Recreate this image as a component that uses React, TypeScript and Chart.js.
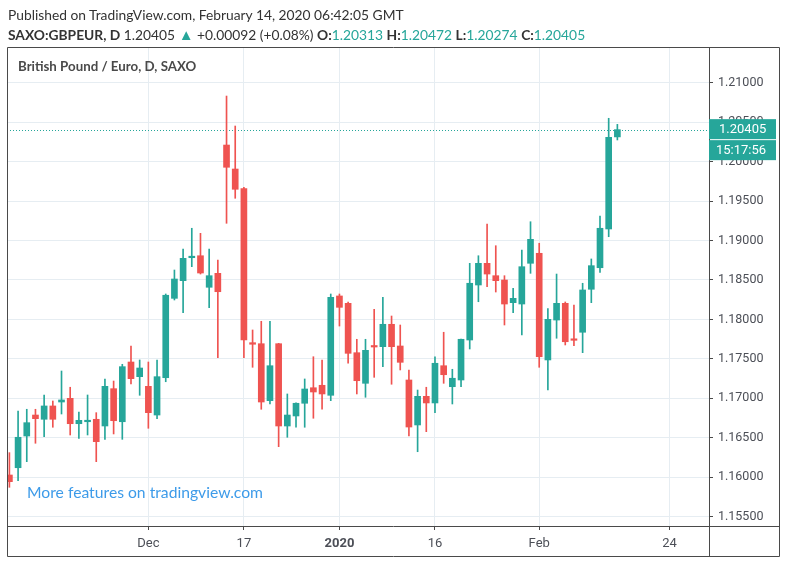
import React, { useEffect, useRef } from 'react';
import { Chart, registerables } from 'chart.js';

Chart.register(...registerables);

// Daily GBP/EUR candles, Nov 8 2019 (index 0) .. Feb 14 2020 (index 70), weekdays only
const opens = [
  1.16028, 1.1612, 1.16522, 1.16788, 1.16734, 1.16903, 1.16953, 1.17, 1.16678, 1.16703,
  1.16734, 1.16649, 1.17122, 1.16703, 1.1746, 1.17274, 1.17152, 1.16788, 1.17261, 1.18267,
  1.18491, 1.18782, 1.18807, 1.18407, 1.18584, 1.2021, 1.19906, 1.19657, 1.17705, 1.17692,
  1.1697, 1.17692, 1.16649, 1.16776, 1.16937, 1.17134, 1.17165, 1.17038, 1.18297, 1.18204,
  1.17578, 1.1719, 1.17663, 1.17654, 1.17938, 1.17663, 1.17232, 1.16662, 1.17025, 1.16941,
  1.17413, 1.17147, 1.17232, 1.17739, 1.18436, 1.18711, 1.18554, 1.18499, 1.18212, 1.18195,
  1.18711, 1.18838, 1.17486, 1.17992, 1.18204, 1.17752, 1.17837, 1.18382, 1.18655, 1.19146,
  1.20313,
];
const highs = [
  1.16311, 1.16839, 1.16861, 1.16861, 1.17042, 1.16966, 1.17346, 1.1714, 1.16826, 1.17042,
  1.16818, 1.17245, 1.17219, 1.17431, 1.17663, 1.17486, 1.1746, 1.17486, 1.18322, 1.18626,
  1.18892, 1.19155, 1.19091, 1.18892, 1.18753, 1.20831, 1.20451, 1.19674, 1.17866, 1.17976,
  1.17976, 1.17697, 1.17055, 1.16944, 1.17245, 1.17527, 1.17486, 1.18322, 1.18322, 1.18221,
  1.17748, 1.17748, 1.18128, 1.1828, 1.18043, 1.17929, 1.17359, 1.17105, 1.1714, 1.17527,
  1.17837, 1.17368, 1.17752, 1.18711, 1.18807, 1.19209, 1.18934, 1.18554, 1.18394, 1.1888,
  1.19238, 1.18965, 1.18136, 1.18575, 1.18221, 1.18183, 1.18458, 1.18766, 1.19311, 1.20549,
  1.20472,
];
const lows = [
  1.15872, 1.15956, 1.16197, 1.1643, 1.16513, 1.16633, 1.16801, 1.16535, 1.16493, 1.16535,
  1.16197, 1.1648, 1.16548, 1.1648, 1.17181, 1.17038, 1.1662, 1.16742, 1.1721, 1.18246,
  1.18085, 1.18668, 1.18575, 1.18148, 1.17515, 1.19218, 1.19535, 1.17515, 1.17393, 1.16861,
  1.16928, 1.16387, 1.16506, 1.16633, 1.16633, 1.16747, 1.16861, 1.1697, 1.17916, 1.17444,
  1.17055, 1.17013, 1.17266, 1.17401, 1.17178, 1.17359, 1.16522, 1.16323, 1.16577, 1.16818,
  1.1719, 1.16928, 1.17147, 1.17625, 1.18224, 1.18414, 1.18347, 1.17929, 1.18085, 1.17802,
  1.18584, 1.17393, 1.17105, 1.17761, 1.17676, 1.17667, 1.17578, 1.18212, 1.18597, 1.19048,
  1.20274,
];
const closes = [
  1.15943, 1.16506, 1.16691, 1.16742, 1.16903, 1.16734, 1.16979, 1.16678, 1.16721, 1.16721,
  1.1645, 1.17152, 1.16716, 1.17401, 1.17249, 1.17384, 1.16818, 1.17274, 1.18306, 1.18512,
  1.18774, 1.18795, 1.18588, 1.18554, 1.18351, 1.19928, 1.19649, 1.17739, 1.17685, 1.16953,
  1.17413, 1.16649, 1.16788, 1.16937, 1.17118, 1.1708, 1.17055, 1.1828, 1.18153, 1.1757,
  1.17223, 1.17608, 1.1765, 1.17938, 1.17654, 1.17456, 1.16636, 1.17025, 1.16941, 1.17444,
  1.17299, 1.17254, 1.17748, 1.18458, 1.18711, 1.18575, 1.18491, 1.18195, 1.18267, 1.18668,
  1.19015, 1.17527, 1.18001, 1.18204, 1.17717, 1.17735, 1.18373, 1.18681, 1.19155, 1.20308,
  1.20405,
];

const yTicks = [1.155, 1.16, 1.165, 1.17, 1.175, 1.18, 1.185, 1.19, 1.195, 1.2, 1.205, 1.21];
const xTickPositions = [16, 27, 38, 49, 61, 76];
const xTickLabels = ['Dec', '17', '2020', '16', 'Feb', '24'];
const boldTickLabels = ['2020'];

const lastPrice = 1.20405;
const countdown = '15:17:56';

const GREEN = '#26a69a';
const RED = '#ef5350';
const GRID = '#e6edf2';
const AXIS = '#4a4a4a';
const TEXT = '#4c4f57';
const AXIS_FONT = 'Roboto, "Liberation Sans", sans-serif';

export default function App() {
  const ref = useRef<HTMLCanvasElement | null>(null);

  useEffect(() => {
    document.body.style.margin = '0';
    const colors = opens.map((o, i) => (closes[i] >= o ? GREEN : RED));

    const framePlugin = {
      id: 'tvFrame',
      beforeDatasetsDraw(chart: any) {
        const { ctx, chartArea, scales } = chart;
        const y = Math.round(scales.y.getPixelForValue(lastPrice)) + 0.5;
        ctx.save();
        ctx.strokeStyle = GREEN;
        ctx.lineWidth = 1;
        ctx.setLineDash([1, 2]);
        ctx.beginPath();
        ctx.moveTo(chartArea.left, y);
        ctx.lineTo(chartArea.right, y);
        ctx.stroke();
        ctx.restore();
      },
      afterDraw(chart: any) {
        const { ctx, chartArea, scales } = chart;
        const L = chartArea.left + 0.5;
        const T = chartArea.top + 0.5;
        const R = chartArea.right + 0.5;
        const B = chartArea.bottom + 0.5;
        const outerR = chart.width - 8 + 0.5;
        const outerB = chart.height - 8 + 0.5;
        ctx.save();
        ctx.strokeStyle = AXIS;
        ctx.lineWidth = 1;
        ctx.beginPath();
        ctx.rect(L, T, outerR - L, outerB - T);
        ctx.moveTo(L, B);
        ctx.lineTo(outerR, B);
        ctx.moveTo(R, T);
        ctx.lineTo(R, outerB);
        ctx.stroke();

        // last price + countdown boxes
        const py = scales.y.getPixelForValue(lastPrice);
        const bx = chartArea.right;
        const bw = 67;
        ctx.fillStyle = GREEN;
        ctx.fillRect(bx, py - 10.5, bw, 20);
        ctx.fillRect(bx, py + 10.5, bw, 20);
        ctx.fillStyle = '#ffffff';
        ctx.font = '13px ' + AXIS_FONT;
        ctx.textBaseline = 'middle';
        ctx.textAlign = 'left';
        ctx.fillText(lastPrice.toFixed(5), bx + 10, py);
        ctx.fillText(countdown, bx + 7, py + 21);
        ctx.restore();
      },
    };

    const chart = new Chart(ref.current as HTMLCanvasElement, {
      type: 'bar',
      data: {
        datasets: [
          {
            label: 'wick',
            data: highs.map((h, i) => ({ x: i, y: [lows[i], h] })) as any,
            backgroundColor: colors,
            barThickness: 1,
            grouped: false,
            order: 2,
          } as any,
          {
            label: 'body',
            data: opens.map((o, i) => ({ x: i, y: [o, closes[i]] })) as any,
            backgroundColor: colors,
            barThickness: 6,
            grouped: false,
            order: 1,
            minBarLength: 1.5,
          } as any,
        ],
      },
      options: {
        responsive: false,
        animation: false,
        devicePixelRatio: 1,
        layout: { padding: { left: 7, top: 47, right: 8, bottom: 8 } },
        plugins: {
          legend: { display: false },
          tooltip: { enabled: false },
        },
        scales: {
          x: {
            type: 'linear',
            min: -0.276,
            max: 80.55,
            offset: false,
            afterBuildTicks: (s: any) => {
              s.ticks = xTickPositions.map((v) => ({ value: v }));
            },
            afterFit: (s: any) => {
              s.height = 30;
            },
            grid: { color: GRID, tickLength: 4, tickColor: AXIS, offset: false, drawTicks: true },
            border: { display: false },
            ticks: {
              autoSkip: false,
              maxRotation: 0,
              minRotation: 0,
              padding: 6,
              color: TEXT,
              font: (ctx: any) => ({
                family: AXIS_FONT,
                size: 13,
                weight: ctx.tick && boldTickLabels.includes(xTickLabels[xTickPositions.indexOf(ctx.tick.value)]) ? 'bold' : 'normal',
              }),
              callback: (v: any) => {
                const idx = xTickPositions.indexOf(Number(v));
                return idx >= 0 ? xTickLabels[idx] : '';
              },
            },
          },
          y: {
            type: 'linear',
            position: 'right',
            min: 1.153815,
            max: 1.214525,
            beginAtZero: false,
            afterBuildTicks: (s: any) => {
              s.ticks = yTicks.map((v) => ({ value: v }));
            },
            afterFit: (s: any) => {
              s.width = 70;
            },
            grid: { color: GRID, tickLength: 4, tickColor: AXIS, drawTicks: true },
            border: { display: false },
            ticks: {
              padding: 5,
              color: TEXT,
              font: { family: AXIS_FONT, size: 12.5 },
              callback: (v: any) => Number(v).toFixed(5),
            },
          },
        },
      } as any,
      plugins: [framePlugin],
    });
    return () => chart.destroy();
  }, []);

  const hdr: React.CSSProperties = {
    position: 'absolute',
    left: 8,
    fontFamily: 'Lato, "Open Sans", sans-serif',
    fontSize: 13.8,
    color: '#333',
    whiteSpace: 'nowrap',
    lineHeight: '18px',
  };
  const teal: React.CSSProperties = { color: GREEN };

  return (
    <div style={{ position: 'relative', width: 787, height: 564, background: '#fff', overflow: 'hidden' }}>
      <canvas ref={ref} width={787} height={564} style={{ position: 'absolute', left: 0, top: 0 }} />
      <div style={{ ...hdr, top: 6 }}>Published on TradingView.com, February 14, 2020 06:42:05 GMT</div>
      <div style={{ ...hdr, top: 25 }}>
        <b>SAXO:GBPEUR, D</b> 1.20405 <span style={{ ...teal, fontSize: 15 }}>▲</span> +0.00092 (+0.08%) <b>O:</b>
        <span style={teal}>1.20313</span> <b>H:</b>
        <span style={teal}>1.20472</span> <b>L:</b>
        <span style={teal}>1.20274</span> <b>C:</b>
        <span style={teal}>1.20405</span>
      </div>
      <div
        style={{
          position: 'absolute',
          left: 18,
          top: 58,
          fontFamily: 'Lato, "Open Sans", sans-serif',
          fontWeight: 700,
          fontSize: 13.3,
          color: '#4a4a4a',
          lineHeight: '16px',
          whiteSpace: 'nowrap',
        }}
      >
        British Pound / Euro, D, SAXO
      </div>
      <div
        style={{
          position: 'absolute',
          left: 27,
          top: 482,
          fontFamily: 'Lato, "Open Sans", sans-serif',
          fontSize: 15.7,
          color: '#3d9be9',
          lineHeight: '20px',
          whiteSpace: 'nowrap',
        }}
      >
        More features on tradingview.com
      </div>
    </div>
  );
}
